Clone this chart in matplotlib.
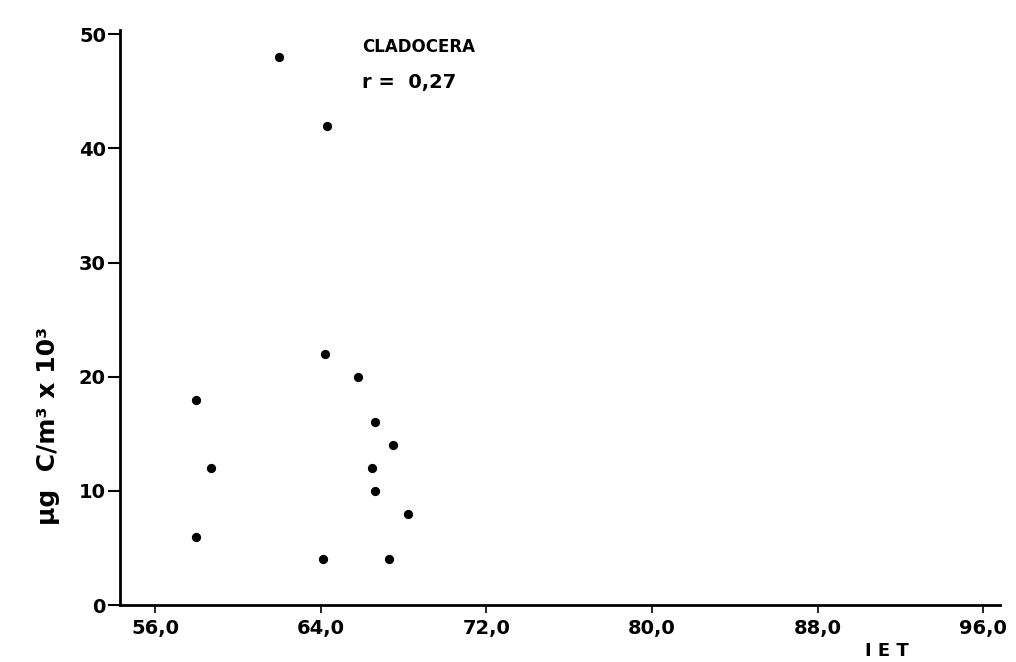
import matplotlib
matplotlib.use("Agg")
import matplotlib.pyplot as plt

# values
iet = [62.0, 64.3, 64.2, 65.8, 66.6, 67.5, 66.5, 66.6, 68.2, 64.1, 67.3, 58.0, 58.7, 58.0]
biomass = [48, 42, 22, 20, 16, 14, 12, 10, 8, 4, 4, 18, 12, 6]

xticks = [56, 64, 72, 80, 88, 96]
xticklabels = ["56,0", "64,0", "72,0", "80,0", "88,0", "96,0"]
yticks = [0, 10, 20, 30, 40, 50]

plt.rcParams['font.family'] = ['DejaVu Sans']

fig = plt.figure(figsize=(10.16, 6.62), dpi=100)
ax = fig.add_axes([0.118, 0.086, 0.866, 0.869])

ax.scatter(iet, biomass, s=32, color="black", zorder=3)

ax.set_xlim(54.3, 96.8)
ax.set_ylim(0, 50.4)
ax.spines["top"].set_visible(False)
ax.spines["right"].set_visible(False)
ax.spines["left"].set_linewidth(2.0)
ax.spines["bottom"].set_linewidth(2.0)

ax.set_xticks(xticks)
ax.set_xticklabels(xticklabels)
ax.set_yticks(yticks)
ax.tick_params(axis="y", direction="out", length=9, width=1.5, pad=1,
               labelsize=14)
ax.tick_params(axis="x", direction="out", length=6, width=1.2, pad=4,
               labelsize=14)
for lab in ax.get_xticklabels() + ax.get_yticklabels():
    lab.set_fontweight("bold")

fig.text(0.047, 0.357, "µg  C/m³ x 10³", rotation=90, ha="center", va="center",
         fontsize=18, fontweight="bold")

ax.text(0.275, 0.986, "CLADOCERA", transform=ax.transAxes,
        fontsize=12, fontweight="bold", ha="left", va="top")
ax.text(0.275, 0.925, "r =  0,27", transform=ax.transAxes,
        fontsize=14, fontweight="bold", ha="left", va="top")
fig.text(0.851, 0.003, "I E T", fontsize=13, fontweight="bold", ha="left", va="bottom")

fig.savefig("out.png", dpi=100, facecolor="white")
